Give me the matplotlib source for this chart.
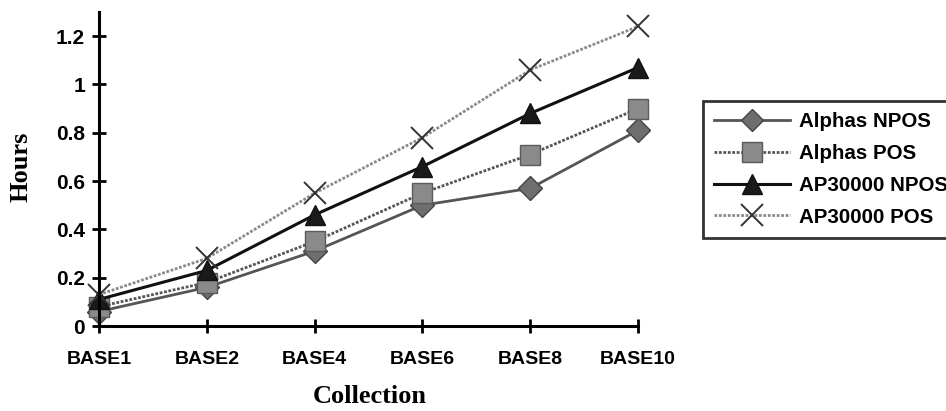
import matplotlib
matplotlib.use("Agg")
import matplotlib.pyplot as plt

# ── 数据──
collections = ["BASE1", "BASE2", "BASE4", "BASE6", "BASE8", "BASE10"]
alphas_npos = [0.06, 0.16, 0.31, 0.50, 0.57, 0.81]
alphas_pos = [0.08, 0.18, 0.35, 0.55, 0.71, 0.90]
ap_npos = [0.11, 0.23, 0.46, 0.66, 0.88, 1.07]
ap_pos = [0.13, 0.28, 0.55, 0.78, 1.06, 1.24]
yticks = [0, 0.2, 0.4, 0.6, 0.8, 1, 1.2]
ytick_labels = ["0", "0.2", "0.4", "0.6", "0.8", "1", "1.2"]

SANS = "Liberation Sans"
SERIF = "Liberation Serif"

fig = plt.figure(figsize=(9.46, 4.11), dpi=100)
ax = fig.add_axes([99 / 946, 1 - 326 / 411, (638 - 99) / 946, (326 - 12) / 411])
x = list(range(len(collections)))

ax.plot(x, alphas_npos, color="#555555", linestyle="-", linewidth=2.0,
        marker="D", markersize=12, markerfacecolor="#6e6e6e",
        markeredgecolor="#444444", label="Alphas NPOS", clip_on=False)
ax.plot(x, alphas_pos, color="#555555", linestyle=(0, (1, 0.6)), linewidth=2.0,
        marker="s", markersize=15, markerfacecolor="#8a8a8a",
        markeredgecolor="#5a5a5a", label="Alphas POS", clip_on=False)
ax.plot(x, ap_npos, color="#111111", linestyle="-", linewidth=2.2,
        marker="^", markersize=15, markerfacecolor="#1a1a1a",
        markeredgecolor="#111111", label="AP30000 NPOS", clip_on=False)
ax.plot(x, ap_pos, color="#8a8a8a", linestyle=(0, (1, 0.6)), linewidth=2.0,
        marker="x", markersize=16, markeredgewidth=1.4,
        markeredgecolor="#333333", label="AP30000 POS", clip_on=False)

ax.set_xlim(0, len(collections) - 1)
ax.set_ylim(0, 1.3)
ax.set_xticks(x)
ax.set_xticklabels(collections, fontfamily=SANS, fontweight="bold", fontsize=14)
ax.set_yticks(yticks)
ax.set_yticklabels(ytick_labels, fontfamily=SANS, fontweight="bold", fontsize=15)
ax.tick_params(axis="both", direction="inout", length=10, width=2, color="black")
ax.tick_params(axis="x", pad=13)
ax.tick_params(axis="y", pad=5)

for side in ["top", "right"]:
    ax.spines[side].set_visible(False)
for side in ["left", "bottom"]:
    ax.spines[side].set_linewidth(2.2)

ax.set_xlabel("Collection", fontfamily=SERIF, fontweight="bold", fontsize=19)
ax.set_ylabel("Hours", fontfamily=SERIF, fontweight="bold", fontsize=19)
ax.xaxis.set_label_coords(0.503, -0.226)
ax.yaxis.set_label_coords(-0.145, 0.506)
ax.xaxis.label.set_va("center")
ax.yaxis.label.set_va("center")

leg = fig.legend(loc="upper left", bbox_to_anchor=(703 / 946, 1 - 101 / 411),
                 borderaxespad=0, frameon=True, fancybox=False,
                 prop={"family": SANS, "weight": "bold", "size": 14.8},
                 handlelength=3.7, handletextpad=0.4, labelspacing=0.62,
                 borderpad=0.55, markerscale=0.95)
leg.get_frame().set_edgecolor("black")
leg.get_frame().set_linewidth(2)

fig.savefig("out.png", dpi=100)
